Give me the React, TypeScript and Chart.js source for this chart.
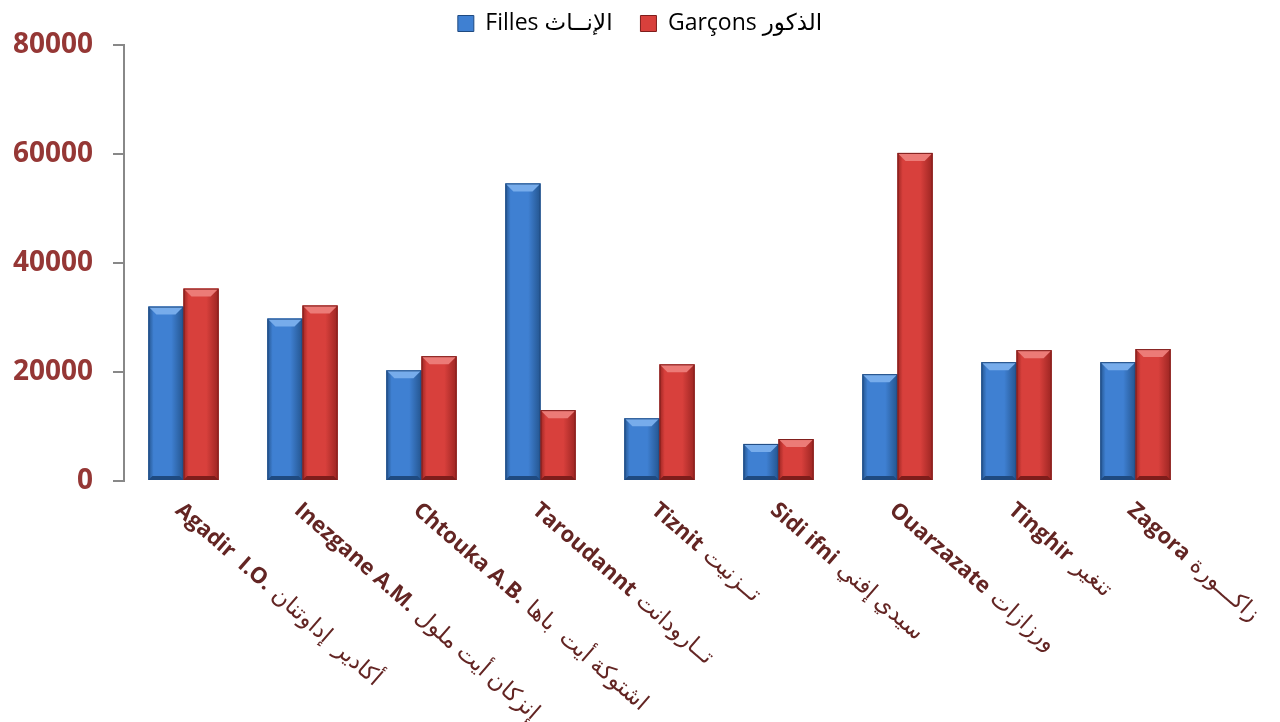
import React, { useEffect, useRef } from "react";
import { Chart, registerables } from "chart.js";

Chart.register(...registerables);

const categoriesLatin = [
  "Agadir  I.O.",
  "Inezgane A.M.",
  "Chtouka A.B.",
  "Taroudannt",
  "Tiznit",
  "Sidi ifni",
  "Ouarzazate",
  "Tinghir",
  "Zagora",
];
const categoriesArabic = [
  "أكادير  إداوتنان",
  "إنزكان أيت ملول",
  "اشتوكة أيت  باها",
  "تــارودانت",
  "تــزنيت",
  "سيدي إفني",
  "ورزازات",
  "تنغير",
  "زاكـــورة",
];
const seriesNames = ["Filles الإنــاث", "Garçons الذكور"];
const filles = [32000, 29800, 20300, 54600, 11500, 6800, 19600, 21800, 21800];
const garcons = [35300, 32200, 22900, 13000, 21400, 7700, 60200, 24000, 24200];
const yTicks = [0, 20000, 40000, 60000, 80000];

const palettes = [
  { edge: "#24558f", mid: "#3f80d2", light: "#77aceb", dark: "#1f4a80" },
  { edge: "#9c2522", mid: "#d8403c", light: "#ec7b77", dark: "#7e1d1b" },
];

const bevelPlugin = {
  id: "bevel",
  afterDatasetsDraw(chart: any) {
    const ctx = chart.ctx;
    chart.data.datasets.forEach((_: any, di: number) => {
      const meta = chart.getDatasetMeta(di);
      const p = palettes[di];
      meta.data.forEach((bar: any) => {
        const { x, y, base, width } = bar.getProps(["x", "y", "base", "width"], true);
        const l = x - width / 2;
        const r = x + width / 2;
        const t = Math.min(y, base);
        const b = Math.max(y, base);
        const h = b - t;
        const bv = Math.min(8, h / 3);
        ctx.save();
        const g = ctx.createLinearGradient(l, 0, r, 0);
        g.addColorStop(0, p.edge);
        g.addColorStop(0.15, p.mid);
        g.addColorStop(0.65, p.mid);
        g.addColorStop(1, p.edge);
        ctx.fillStyle = g;
        ctx.fillRect(l, t, width, h);
        ctx.beginPath();
        ctx.moveTo(l, t);
        ctx.lineTo(r, t);
        ctx.lineTo(r - bv, t + bv);
        ctx.lineTo(l + bv, t + bv);
        ctx.closePath();
        ctx.fillStyle = p.light;
        ctx.fill();
        ctx.beginPath();
        ctx.moveTo(l, b);
        ctx.lineTo(r, b);
        ctx.lineTo(r - bv * 0.5, b - bv * 0.5);
        ctx.lineTo(l + bv * 0.5, b - bv * 0.5);
        ctx.closePath();
        ctx.fillStyle = p.dark;
        ctx.fill();
        ctx.strokeStyle = p.dark;
        ctx.lineWidth = 1;
        ctx.strokeRect(l + 0.5, t + 0.5, width - 1, h - 1);
        ctx.restore();
      });
    });
  },
};

const xLabelPlugin = {
  id: "xLabels",
  afterDraw(chart: any) {
    const ctx = chart.ctx;
    const xs = chart.scales.x;
    const yBase = chart.chartArea.bottom + 18;
    const angle = (41 * Math.PI) / 180;
    ctx.save();
    ctx.fillStyle = "#632523";
    ctx.textBaseline = "top";
    ctx.textAlign = "left";
    categoriesLatin.forEach((lat, i) => {
      const cx = xs.getPixelForValue(i);
      ctx.save();
      ctx.translate(cx + 2, yBase);
      ctx.rotate(angle);
      ctx.font = "bold 22px 'Open Sans', 'DejaVu Sans', sans-serif";
      ctx.fillText(lat, 0, 0);
      const w = ctx.measureText(lat).width;
      ctx.font = "23px 'Open Sans', 'DejaVu Sans', sans-serif";
      ctx.fillText(categoriesArabic[i], w + 8, 0);
      ctx.restore();
    });
    ctx.restore();
  },
};

export default function App() {
  const ref = useRef<HTMLCanvasElement>(null);
  useEffect(() => {
    if (!ref.current) return;
    const chart = new Chart(ref.current, {
      type: "bar",
      data: {
        labels: categoriesLatin,
        datasets: [
          {
            label: seriesNames[0] + "\u00A0\u00A0\u00A0",
            data: filles,
            backgroundColor: "#3f80d2",
            borderWidth: 0,
            categoryPercentage: 0.59,
            barPercentage: 1,
          },
          {
            label: seriesNames[1],
            data: garcons,
            backgroundColor: "#d8403c",
            borderWidth: 0,
            categoryPercentage: 0.59,
            barPercentage: 1,
          },
        ],
      },
      options: {
        animation: false,
        responsive: true,
        maintainAspectRatio: false,
        layout: { padding: { left: 0, right: 0, top: 2, bottom: 241 } },
        plugins: {
          legend: {
            display: true,
            position: "top",
            labels: {
              color: "#111",
              boxWidth: 16,
              boxHeight: 16,
              padding: 10,
              font: { family: "'Open Sans', 'DejaVu Sans', sans-serif", size: 23 },
              generateLabels: (ch: any) =>
                ch.data.datasets.map((ds: any, i: number) => ({
                  text: ds.label,
                  fillStyle: palettes[i].mid,
                  strokeStyle: palettes[i].dark,
                  lineWidth: 1,
                  datasetIndex: i,
                  hidden: false,
                })),
            },
          },
          tooltip: { enabled: false },
        },
        scales: {
          x: {
            display: false,
            offset: true,
          },
          y: {
            min: 0,
            max: 80000,
            afterFit: (s: any) => {
              s.width = 124;
            },
            afterBuildTicks: (s: any) => {
              s.ticks = yTicks.map((v) => ({ value: v }));
            },
            ticks: {
              color: "#953735",
              padding: 20,
              callback: (v: any) => String(v),
              font: { family: "'Open Sans', 'DejaVu Sans', sans-serif", size: 28, weight: "bold" },
            },
            grid: {
              drawOnChartArea: false,
              drawTicks: true,
              tickLength: 11,
              color: "#888888",
              lineWidth: 2,
            },
            border: { display: true, color: "#888888", width: 2 },
          },
          yRight: {
            position: "right",
            min: 0,
            max: 80000,
            afterFit: (s: any) => {
              s.width = 85;
            },
            ticks: { display: false },
            grid: { display: false, drawTicks: false },
            border: { display: false },
          },
        },
      },
      plugins: [bevelPlugin, xLabelPlugin],
    });
    return () => chart.destroy();
  }, []);
  return (
    <div style={{ position: "absolute", left: 0, top: 0, width: 1280, height: 722, background: "#fff" }}>
      <canvas ref={ref} />
    </div>
  );
}
